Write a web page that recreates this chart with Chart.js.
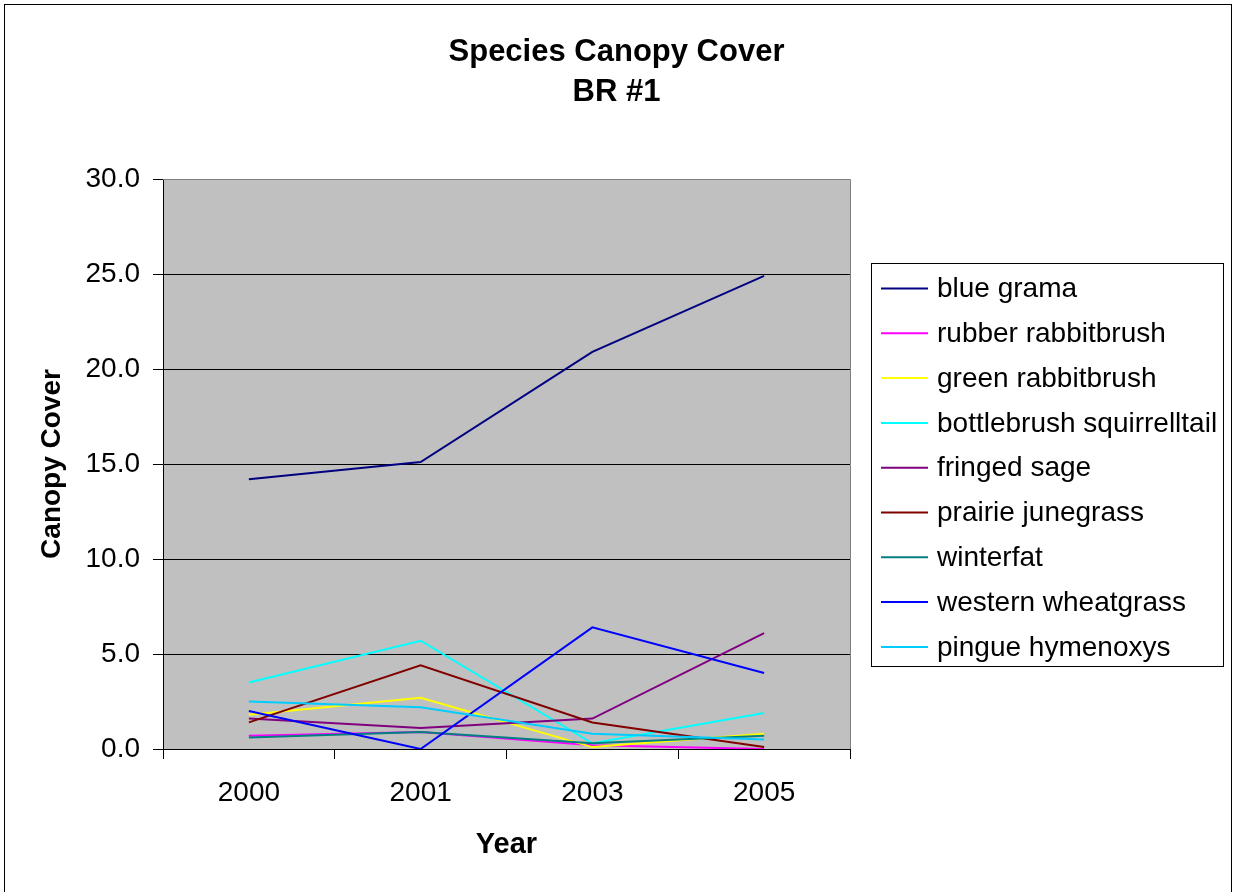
<!DOCTYPE html>
<html>
<head>
<meta charset="utf-8">
<title>Species Canopy Cover - BR #1</title>
<script src="https://cdn.jsdelivr.net/npm/chart.js@4.4.1/dist/chart.umd.min.js"></script>
<style>
  html, body { margin: 0; padding: 0; background: #fff; }
  canvas { display: block; }
</style>
</head>
<body>
<canvas id="chart" width="1233" height="892"></canvas>
<script>
// Survey years and canopy cover (%) per species
const years = ['2000', '2001', '2003', '2005'];

const blueGrama            = [14.2, 15.1, 20.9, 24.9];
const rubberRabbitbrush    = [0.7, 0.9, 0.2, 0.0];
const greenRabbitbrush     = [1.8, 2.7, 0.1, 0.8];
const bottlebrushSquirrel  = [3.5, 5.7, 0.3, 1.9];
const fringedSage          = [1.6, 1.1, 1.6, 6.1];
const prairieJunegrass     = [1.4, 4.4, 1.4, 0.1];
const winterfat            = [0.6, 0.9, 0.3, 0.7];
const westernWheatgrass    = [2.0, 0.0, 6.4, 4.0];
const pingueHymenoxys      = [2.5, 2.2, 0.8, 0.5];

const speciesNames = [
  'blue grama', 'rubber rabbitbrush', 'green rabbitbrush',
  'bottlebrush squirrelltail', 'fringed sage', 'prairie junegrass',
  'winterfat', 'western wheatgrass', 'pingue hymenoxys'
];
const speciesValues = [
  blueGrama, rubberRabbitbrush, greenRabbitbrush, bottlebrushSquirrel,
  fringedSage, prairieJunegrass, winterfat, westernWheatgrass, pingueHymenoxys
];
const speciesColors = [
  '#000080', '#FF00FF', '#FFFF00', '#00FFFF',
  '#800080', '#800000', '#008080', '#0000FF', '#00CCFF'
];

const yTicks = [0, 5, 10, 15, 20, 25, 30];

const FONT = '"Liberation Sans", Arial, Helvetica, sans-serif';

// Page frame, grey plot background and its top/right edges
const framePlugin = {
  id: 'frame',
  beforeDraw(chart) {
    const { ctx, chartArea: a, width, height } = chart;
    ctx.save();
    ctx.fillStyle = '#fff';
    ctx.fillRect(0, 0, width, height);
    ctx.fillStyle = '#C0C0C0';
    ctx.fillRect(a.left, a.top, a.right - a.left, a.bottom - a.top);
    ctx.restore();
  },
  afterDraw(chart) {
    const { ctx, chartArea: a } = chart;
    ctx.save();
    ctx.strokeStyle = '#808080';
    ctx.lineWidth = 1;
    ctx.beginPath();
    ctx.moveTo(a.left, Math.round(a.top) + 0.5);
    ctx.lineTo(Math.round(a.right) + 0.5, Math.round(a.top) + 0.5);
    ctx.lineTo(Math.round(a.right) + 0.5, Math.round(a.bottom));
    ctx.stroke();
    ctx.strokeStyle = '#000';
    ctx.strokeRect(4.5, 4.5, 1227, 900);
    ctx.restore();
  }
};

// Boxed legend to the right of the plot
const boxLegendPlugin = {
  id: 'boxLegend',
  afterDraw(chart) {
    const { ctx } = chart;
    const box = { x: 871.5, y: 263.5, w: 352, h: 403 };
    ctx.save();
    ctx.fillStyle = '#fff';
    ctx.fillRect(box.x, box.y, box.w, box.h);
    ctx.strokeStyle = '#000';
    ctx.lineWidth = 1;
    ctx.strokeRect(box.x, box.y, box.w, box.h);
    ctx.font = '28px ' + FONT;
    ctx.textBaseline = 'middle';
    ctx.textAlign = 'left';
    chart.data.datasets.forEach((ds, i) => {
      const y = 288.5 + i * 44.8;
      ctx.strokeStyle = ds.borderColor;
      ctx.lineWidth = 2;
      ctx.beginPath();
      ctx.moveTo(881, y);
      ctx.lineTo(928, y);
      ctx.stroke();
      ctx.fillStyle = '#000';
      ctx.fillText(ds.label, 937, y + 1);
    });
    ctx.restore();
  }
};

const datasets = speciesNames.map((name, i) => ({
  label: name,
  data: speciesValues[i],
  borderColor: speciesColors[i],
  backgroundColor: speciesColors[i],
  borderWidth: 2,
  pointRadius: 0,
  pointHoverRadius: 0,
  tension: 0,
  fill: false,
  order: -i
}));

new Chart(document.getElementById('chart'), {
  type: 'line',
  data: { labels: years, datasets },
  options: {
    responsive: false,
    animation: false,
    events: [],
    layout: { padding: { top: 0, left: 0, right: 0, bottom: 0 } },
    plugins: {
      legend: { display: false },
      tooltip: { enabled: false },
      title: {
        display: true,
        text: ['Species Canopy Cover', 'BR #1'],
        color: '#000',
        font: { family: FONT, size: 31, weight: 'bold', lineHeight: 40 / 31 },
        padding: { top: 32, bottom: 67 }
      }
    },
    scales: {
      x: {
        type: 'category',
        offset: true,
        grid: {
          offset: true,
          drawOnChartArea: false,
          drawTicks: true,
          tickLength: 10,
          tickColor: '#000',
          color: '#000'
        },
        border: { display: true, color: '#000', width: 1 },
        ticks: {
          color: '#000',
          font: { family: FONT, size: 28 },
          padding: 17,
          maxRotation: 0,
          autoSkip: false
        },
        title: {
          display: true,
          text: 'Year',
          color: '#000',
          font: { family: FONT, size: 29, weight: 'bold', lineHeight: 1.2 },
          padding: { top: 0, bottom: 30 }
        },
        afterFit(scale) { scale.height = 143; }
      },
      y: {
        min: 0,
        max: 30,
        afterBuildTicks(scale) { scale.ticks = yTicks.map(v => ({ value: v })); },
        grid: {
          color: ctx => (ctx.tick && ctx.tick.value === 30 ? '#808080' : '#000'),
          lineWidth: 1,
          drawTicks: true,
          tickLength: 10,
          tickColor: '#000'
        },
        border: { display: true, color: '#000', width: 1 },
        ticks: {
          color: '#000',
          font: { family: FONT, size: 28 },
          padding: 13,
          callback: v => Number(v).toFixed(1)
        },
        title: {
          display: true,
          text: 'Canopy Cover',
          color: '#000',
          font: { family: FONT, size: 28, weight: 'bold', lineHeight: 1.2 },
          padding: { top: 35, bottom: 0 }
        },
        afterFit(scale) { scale.width = 163; }
      },
      // Empty right-hand axis that keeps room for the legend box
      legendSpace: {
        type: 'linear',
        position: 'right',
        min: 0,
        max: 30,
        grid: { display: false, drawOnChartArea: false, drawTicks: false },
        border: { display: false },
        ticks: { display: false },
        afterFit(scale) { scale.width = 383; }
      }
    }
  },
  plugins: [framePlugin, boxLegendPlugin]
});
</script>
</body>
</html>
